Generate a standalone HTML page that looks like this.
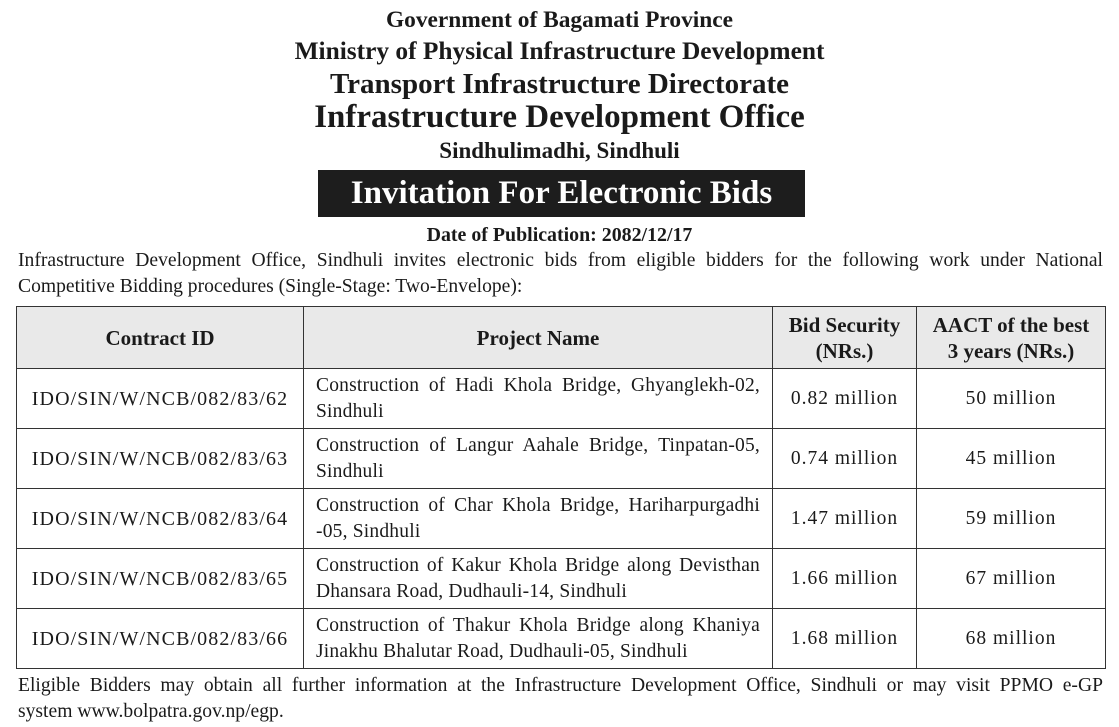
<!DOCTYPE html>
<html><head><meta charset="utf-8"><style>
body{margin:0;width:1119px;height:727px;background:#fff;font-family:"Liberation Serif",serif;color:#1a1a1a;position:relative;overflow:hidden}
.c{position:absolute;left:0;width:1119px;text-align:center;font-weight:bold;white-space:nowrap}
.box{position:absolute;left:318px;top:170px;width:487px;height:47px;background:#1d1d1d;color:#fff;font-weight:bold;font-size:33px;text-align:center;line-height:47px}
.p{position:absolute;left:18px;width:1085px;font-size:19.6px;line-height:26px;text-align:justify;text-align-last:justify;white-space:nowrap}
table{position:absolute;left:16px;top:306px;border-collapse:collapse;font-size:19.5px}
td,th{border:1px solid #333;padding:0}
th{background:#e9e9e9;height:61px;font-size:21px;line-height:26px}
td{height:59px;line-height:26px}
td.id{text-align:center;font-size:20px;letter-spacing:1.1px}
td.pn{padding:0 12px;text-align:justify;text-align-last:left;letter-spacing:0.2px}
td.n{text-align:center;letter-spacing:1px}
</style></head><body>
<div class="c" style="top:7px;font-size:23.4px">Government of Bagamati Province</div>
<div class="c" style="top:37px;font-size:25.4px">Ministry of Physical Infrastructure Development</div>
<div class="c" style="top:68px;font-size:29px">Transport Infrastructure Directorate</div>
<div class="c" style="top:99px;font-size:33px">Infrastructure Development Office</div>
<div class="c" style="top:138px;font-size:23px">Sindhulimadhi, Sindhuli</div>
<div class="box">Invitation For Electronic Bids</div>
<div class="c" style="top:224px;font-size:19.9px">Date of Publication: 2082/12/17</div>
<div class="p" style="top:248px">Infrastructure Development Office, Sindhuli invites electronic bids from eligible bidders for the following work under National</div>
<div class="p" style="top:274px;text-align-last:left">Competitive Bidding procedures (Single-Stage: Two-Envelope):</div>
<table>
<tr><th style="width:286px">Contract ID</th><th style="width:468px">Project Name</th><th style="width:143px">Bid Security<br>(NRs.)</th><th style="width:188px">AACT of the best<br>3 years (NRs.)</th></tr>
<tr><td class="id">IDO/SIN/W/NCB/082/83/62</td><td class="pn">Construction of Hadi Khola Bridge, Ghyanglekh-02, Sindhuli</td><td class="n">0.82 million</td><td class="n">50 million</td></tr>
<tr><td class="id">IDO/SIN/W/NCB/082/83/63</td><td class="pn">Construction of Langur Aahale Bridge, Tinpatan-05, Sindhuli</td><td class="n">0.74 million</td><td class="n">45 million</td></tr>
<tr><td class="id">IDO/SIN/W/NCB/082/83/64</td><td class="pn">Construction of Char Khola Bridge, Hariharpurgadhi -05, Sindhuli</td><td class="n">1.47 million</td><td class="n">59 million</td></tr>
<tr><td class="id">IDO/SIN/W/NCB/082/83/65</td><td class="pn">Construction of Kakur Khola Bridge along Devisthan Dhansara Road, Dudhauli-14, Sindhuli</td><td class="n">1.66 million</td><td class="n">67 million</td></tr>
<tr><td class="id">IDO/SIN/W/NCB/082/83/66</td><td class="pn">Construction of Thakur Khola Bridge along Khaniya Jinakhu Bhalutar Road, Dudhauli-05, Sindhuli</td><td class="n">1.68 million</td><td class="n">68 million</td></tr>
</table>
<div class="p" style="top:673px">Eligible Bidders may obtain all further information at the Infrastructure Development Office, Sindhuli or may visit PPMO e-GP</div>
<div class="p" style="top:699px;text-align-last:left">system www.bolpatra.gov.np/egp.</div>
</body></html>
